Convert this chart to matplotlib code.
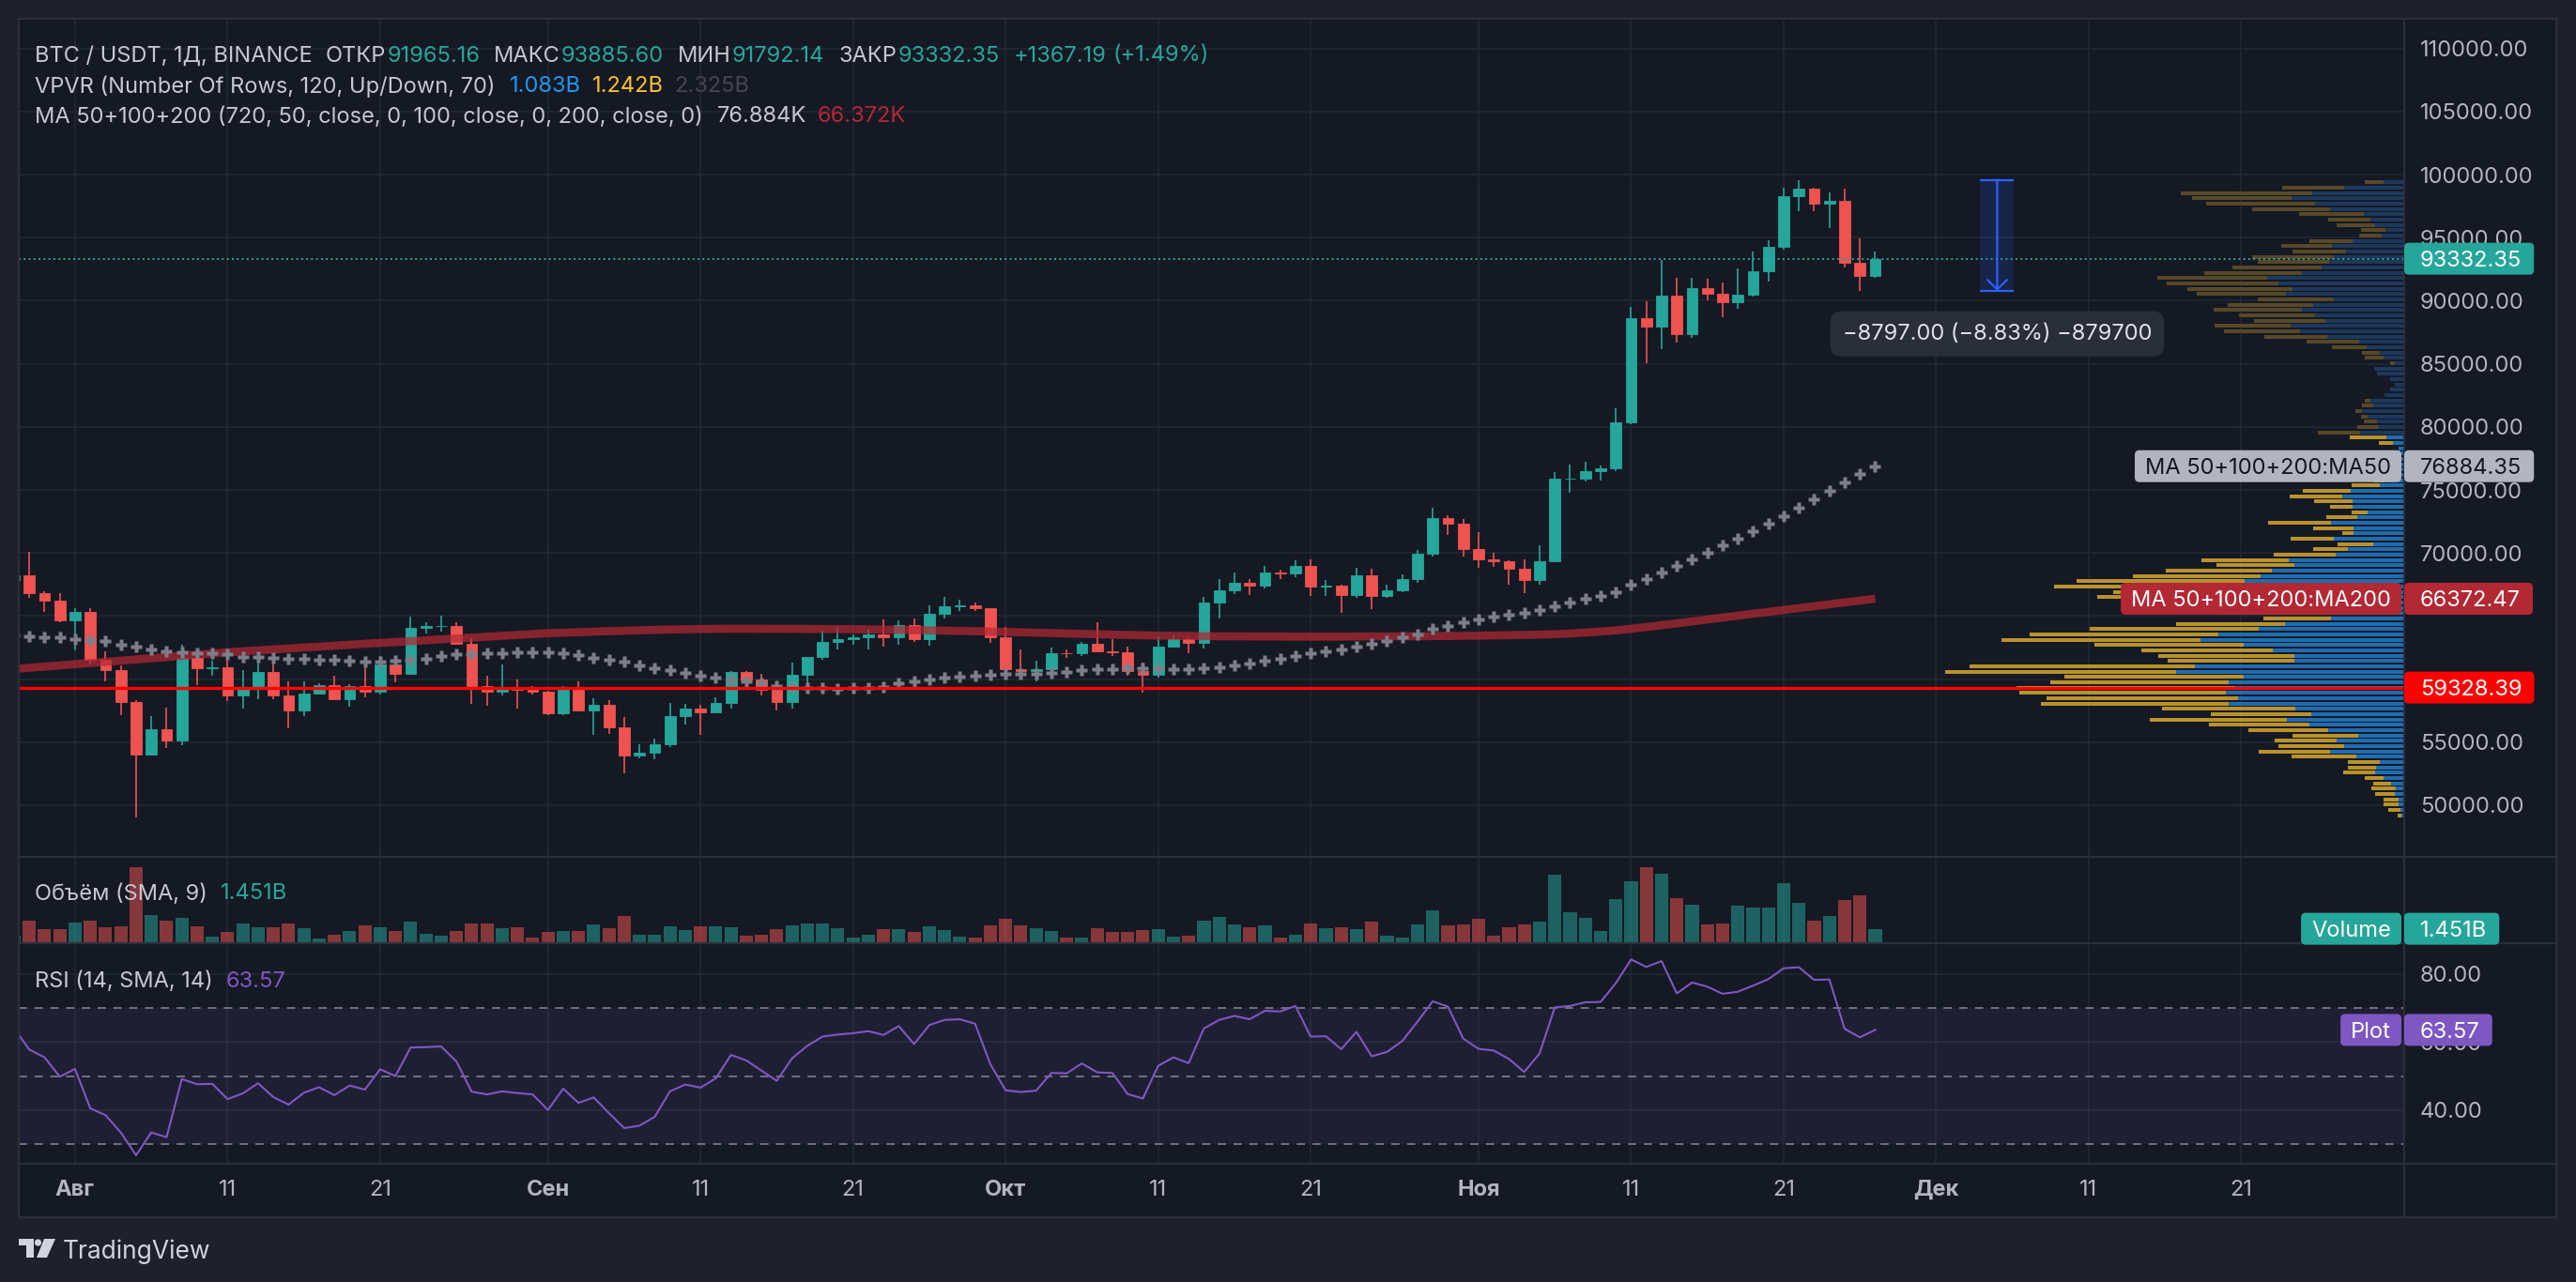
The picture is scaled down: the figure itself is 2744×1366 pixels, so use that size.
#!/usr/bin/env python3
"""BTC/USDT 1D - TradingView-style chart: candles, VPVR, MA 50/200, volume, RSI"""

import matplotlib
matplotlib.use('Agg')
import matplotlib.pyplot as plt
import matplotlib.dates as mdates
from matplotlib.patches import Rectangle, FancyBboxPatch, Circle, Polygon
from matplotlib.ticker import FuncFormatter
import numpy as np
import pandas as pd

plt.rcParams['font.family'] = ['Inter', 'DejaVu Sans']
plt.rcParams['lines.scale_dashes'] = False

# ---------------- data ----------------
dates = pd.date_range('2024-07-28', '2024-11-27', freq='D')

opens = [67880, 68249, 66784, 66188,
         64628, 65354, 61498, 60697, 58161, 54018, 56022, 55134, 61686, 60837,
         60923, 58712, 59346, 60588, 58683, 57541, 58875, 59491, 58427, 59438,
         59013, 61157, 60381, 64094, 64178, 64220, 62834, 59415, 59034, 59359, 59123,
         58973, 57301, 59132, 57487, 57970, 56160, 53962, 54160, 54870, 57042,
         57639, 57341, 58127, 60572, 60005, 59182, 58192, 60309, 61759, 62947,
         63201, 63348, 63578, 63339, 64262, 63152, 65173, 65769, 65858, 65602,
         63327, 60805, 60650, 60752, 62086, 62058, 62819, 62224, 62160, 60636,
         60326, 62540, 63206, 62870, 66046, 67041, 67612, 67399, 68418, 68362,
         69001, 67367, 67378, 66653, 68198, 66628, 67012, 67965, 69963, 72736, 72344,
         70292, 69496, 69374, 68775, 67850, 69373, 75858, 75903, 76509, 76677,
         80370, 88648, 87952, 90375, 87325, 91032, 90587, 89855, 90465, 92310,
         94286, 98317, 98893, 97672, 97900, 93010, 91965.16]
highs = [68318, 70079, 66999, 66849,
         65659, 65596, 62198, 61117, 58305, 57040, 57737, 62746, 61744, 61470,
         61858, 60711, 61578, 61800, 59849, 59817, 59686, 60284, 59618, 61400,
         61820, 61400, 64955, 64513, 65000, 64481, 63212, 60234, 61166, 59944, 59462,
         59054, 59425, 59810, 58519, 58327, 56995, 54850, 55318, 58088, 58044,
         57991, 58589, 60625, 60656, 60381, 59210, 61316, 61786, 63850, 64133,
         63559, 64000, 64745, 64688, 64817, 65839, 66498, 66260, 66076, 65618,
         64130, 62370, 61470, 62484, 62370, 62975, 64478, 63200, 62543, 61321,
         63417, 63480, 63285, 66500, 67950, 68425, 67918, 68969, 68687, 69400,
         69500, 67836, 67472, 68850, 68771, 67454, 68332, 70270, 73620, 72962, 72700,
         71632, 70000, 69391, 69500, 70577, 76400, 76999, 77252, 76900, 81500,
         89530, 89940, 93265, 91790, 91850, 91779, 91449, 92594, 93905, 94831,
         98988, 99588, 98948, 98564, 98871, 94973, 93885.60]
lows = [67066, 66428, 65302, 64530,
        62302, 61130, 59850, 57122, 49000, 53970, 54558, 54730, 59535, 60243,
        58286, 57642, 58392, 58433, 56078, 57098, 58785, 58408, 57787, 58548,
        58784, 59724, 60345, 63620, 63784, 62800, 58034, 57860, 58713, 57701, 58744,
        57118, 57128, 57415, 55606, 55643, 52550, 53745, 53629, 54591, 56386,
        55567, 57324, 57632, 59880, 58696, 57493, 57628, 59174, 61555, 62350,
        62758, 62357, 62538, 62700, 62947, 62670, 64819, 65422, 65432, 62856,
        60164, 59996, 59828, 60459, 61689, 61798, 62128, 61860, 60300, 58946,
        60087, 62487, 62050, 62457, 64800, 66750, 66697, 67177, 67900, 68100,
        66571, 66571, 65260, 66457, 65522, 66439, 66913, 67620, 69730, 71436, 69686,
        68820, 68900, 67478, 66835, 67458, 69299, 74754, 75648, 75714, 76492,
        80216, 85072, 86127, 86668, 87073, 90057, 88722, 89376, 90357, 91500,
        94040, 97122, 97136, 95735, 92600, 90791, 91792.14]
closes = [68249, 66784, 66188, 64628,
          65354, 61498, 60697, 58161, 54018, 56022, 55134, 61686, 60837, 60923,
          58712, 59346, 60588, 58683, 57541, 58875, 59491, 58427, 59438, 59013,
          61157, 60381, 64094, 64178, 64220, 62834, 59415, 59034, 59359, 59123, 58973,
          57301, 59132, 57487, 57970, 56160, 53962, 54160, 54870, 57042, 57639,
          57341, 58127, 60572, 60005, 59182, 58192, 60309, 61759, 62947, 63201,
          63348, 63578, 63339, 64262, 63152, 65173, 65769, 65858, 65602, 63327,
          60805, 60650, 60752, 62086, 62058, 62819, 62224, 62160, 60636, 60326,
          62540, 63206, 62870, 66046, 67041, 67612, 67399, 68418, 68362, 69001,
          67367, 67378, 66653, 68198, 66628, 67012, 67965, 69963, 72736, 72344, 70292,
          69496, 69374, 68775, 67850, 69373, 75858, 75903, 76509, 76677, 80370,
          88647, 87952, 90375, 87325, 91032, 90586, 89855, 90465, 92310, 94286,
          98317, 98892, 97672, 97900, 93010, 91965.16, 93332.35]

# volume, billions USDT
volumes = [0.774, 2.321, 1.451, 1.451,
           2.128, 2.321, 1.644, 1.741, 7.834, 2.902, 2.321, 2.611, 1.741, 0.677,
           1.161, 2.031, 1.644, 1.644, 2.031, 1.548, 0.484, 0.870, 1.257, 1.838,
           1.644, 1.257, 2.225, 0.967, 0.774, 1.257, 2.031, 2.031, 1.548, 1.644, 0.580,
           1.161, 1.257, 1.257, 1.934, 1.548, 2.805, 0.870, 0.870, 1.741, 1.354,
           1.741, 1.741, 1.644, 0.774, 0.870, 1.451, 1.838, 2.031, 2.031, 1.548,
           0.580, 0.870, 1.451, 1.451, 1.161, 1.741, 1.354, 0.677, 0.580, 1.838,
           2.515, 1.838, 1.548, 1.257, 0.580, 0.580, 1.548, 1.161, 1.161, 1.354,
           1.451, 0.677, 0.774, 2.321, 2.708, 1.934, 1.644, 1.838, 0.580, 0.870,
           2.031, 1.548, 1.644, 1.451, 2.225, 0.774, 0.580, 1.934, 3.385, 1.838, 1.934,
           2.515, 0.774, 1.644, 1.934, 2.225, 7.061, 3.192, 2.611, 1.257, 4.546,
           6.384, 7.834, 7.157, 4.643, 3.966, 1.934, 2.031, 3.869, 3.675, 3.675,
           6.190, 4.159, 2.321, 2.805, 4.449, 4.933, 1.451]

ma50 = [63480, 63420, 63350, 63300,
        63180, 63100, 63030, 62750, 62600, 62370, 62180, 62130, 62050, 62020,
        61960, 61760, 61760, 61710, 61630, 61630, 61560, 61560, 61460, 61380,
        61380, 61460, 61530, 61630, 61810, 61960, 62000, 62050, 62050, 62130, 62130,
        62130, 62050, 61870, 61700, 61560, 61380, 61060, 60890, 60720, 60470,
        60270, 60140, 59970, 59820, 59650, 59470, 59400, 59280, 59280, 59230,
        59280, 59320, 59400, 59650, 59840, 59970, 60090, 60190, 60270, 60320,
        60390, 60390, 60390, 60520, 60590, 60720, 60770, 60810, 60840, 60840,
        60840, 60810, 60770, 60840, 60960, 61090, 61260, 61460, 61630, 61810,
        62050, 62200, 62330, 62550, 62800, 63040, 63320, 63570, 63990, 64190, 64490,
        64730, 64930, 65110, 65230, 65480, 65770, 66100, 66390, 66590, 66910,
        67460, 67910, 68450, 68950, 69500, 69990, 70600, 71150, 71750, 72350,
        72950, 73600, 74250, 74950, 75600, 76250, 76884.35]

ma200 = [60800, 60895, 60990, 61085,
         61180, 61275, 61370, 61465, 61560, 61655, 61750, 61845, 61940, 62035,
         62130, 62205, 62280, 62355, 62430, 62505, 62575, 62650, 62725, 62800,
         62870, 62940, 63010, 63080, 63150, 63220, 63290, 63360, 63430, 63500, 63570,
         63640, 63680, 63720, 63760, 63800, 63840, 63870, 63900, 63930, 63950,
         63970, 63990, 64000, 64000, 63995, 63990, 63985, 63980, 63975, 63970,
         63960, 63940, 63920, 63900, 63880, 63860, 63840, 63820, 63800, 63770,
         63740, 63710, 63680, 63650, 63620, 63590, 63560, 63530, 63500, 63470,
         63440, 63430, 63420, 63410, 63400, 63395, 63390, 63385, 63380, 63375,
         63370, 63370, 63375, 63380, 63385, 63390, 63395, 63400, 63410, 63420, 63430,
         63440, 63460, 63480, 63500, 63530, 63560, 63620, 63690, 63770, 63860,
         63990, 64130, 64270, 64420, 64570, 64730, 64880, 65030, 65180, 65330,
         65480, 65630, 65780, 65930, 66080, 66230, 66372.47]

rsi = [64.0, 57.8, 55.5, 49.8,
       52.1, 40.5, 38.5, 33.4, 26.7, 33.4, 32.0, 49.1, 47.6, 47.7,
       43.2, 44.9, 47.9, 43.8, 41.6, 45.1, 46.7, 44.4, 47.2, 46.0,
       52.0, 50.0, 58.4, 58.5, 58.7, 54.3, 45.4, 44.6, 45.5, 45.0, 44.6,
       40.0, 46.3, 42.1, 43.7, 39.1, 34.7, 35.4, 38.0, 45.5, 47.5,
       46.6, 49.3, 56.2, 54.6, 51.6, 48.6, 55.2, 58.9, 61.6, 62.2,
       62.6, 63.2, 62.1, 64.7, 59.4, 65.0, 66.5, 66.7, 65.4, 53.5,
       45.8, 45.3, 45.7, 50.9, 50.8, 53.7, 51.1, 50.9, 44.7, 43.4,
       53.0, 55.5, 53.8, 64.0, 66.5, 67.7, 66.7, 69.2, 69.0, 70.6,
       61.6, 61.7, 57.9, 63.0, 55.8, 57.1, 60.3, 66.0, 72.0, 70.4, 61.0,
       58.0, 57.5, 55.0, 51.2, 56.6, 70.2, 70.6, 71.7, 71.8, 77.3,
       84.3, 82.1, 83.8, 74.3, 77.5, 76.3, 74.2, 74.8, 76.6, 78.5,
       81.7, 82.0, 78.3, 78.4, 63.9, 61.4, 63.57]

# VPVR rows (bottom -> top), up / down volume, arbitrary units
vp_up = [3, 4, 6, 6, 10, 9, 14, 22, 31, 30,
         26, 51, 79, 64, 72, 49, 81, 101, 125, 99,
         116, 187, 177, 190, 180, 187, 171, 243, 223, 117,
         117, 140, 171, 217, 198, 155, 127, 78, 100, 133,
         150, 167, 160, 187, 170, 153, 141, 117, 123, 73,
         60, 33, 75, 54, 54, 78, 50, 39, 55, 55,
         66, 57, 26, 20, 17, 15, 13, 10, 8, 6,
         12, 19, 47, 27, 29, 39, 45, 33, 36, 21,
         15, 10, 15, 29, 32, 10, 22, 26, 40, 48,
         82, 111, 121, 84, 95, 109, 97, 75, 126, 119,
         134, 146, 109, 88, 80, 75, 62, 77, 55, 24,
         20, 31, 36, 43, 79, 95, 120, 98, 64, 22]
vp_down = [4, 13, 16, 16, 21, 26, 19, 20, 34, 30,
           34, 69, 76, 70, 66, 70, 85, 107, 146, 107,
           142, 200, 204, 220, 233, 190, 191, 246, 240, 135,
           145, 140, 159, 212, 201, 180, 116, 72, 100, 133,
           150, 160, 150, 186, 179, 136, 113, 83, 93, 66,
           37, 38, 46, 12, 43, 67, 33, 17, 24, 41,
           56, 51, 30, 13, 10, 10, 7, 5, 3, 0,
           15, 39, 45, 23, 14, 7, 7, 12, 6, 0,
           0, 0, 0, 0, 0, 5, 20, 19, 37, 56,
           67, 81, 81, 76, 81, 94, 91, 81, 95, 112,
           119, 117, 104, 95, 76, 87, 57, 54, 46, 24,
           26, 41, 45, 69, 83, 116, 106, 140, 66, 20]
vp_value_area_rows = 72
vp_totals = ['1.083B', '1.242B', '2.325B']

hline_price = 59328.39
measure_top = 99588.0
measure_bottom = 90791.0
measure_span = ('2024-12-03 21:30', '2024-12-06 02:30')
view_span = ('2024-07-28 07:30', '2024-12-31 16:20')

xtick_dates = ['2024-08-01', '2024-08-11', '2024-08-21', '2024-09-01', '2024-09-11',
               '2024-09-21', '2024-10-01', '2024-10-11', '2024-10-21', '2024-11-01',
               '2024-11-11', '2024-11-21', '2024-12-01', '2024-12-11', '2024-12-21']
xtick_labels = ['Авг', '11', '21', 'Сен', '11', '21', 'Окт', '11', '21',
                'Ноя', '11', '21', 'Дек', '11', '21']
month_labels = ['Авг', 'Сен', 'Окт', 'Ноя', 'Дек']
price_ticks = list(range(50000, 110001, 5000))
hidden_price_ticks = [60000, 65000]
rsi_ticks = [40, 60, 80]

# ---------------- style ----------------
W, H = 2744, 1366
BG = '#151924'
OUTER = '#1e2129'
GRID = '#232733'
BORDER = '#2b2f3a'
AXTXT = '#b2b5be'
LEG = '#c5c8cf'
TEAL = '#26a69a'
RED = '#ef5350'
PURPLE = '#7e57c2'
MA200C = '#b22833'
FS = 17

def rect(x0, y0, x1, y1):
    return [x0 / W, 1 - y1 / H, (x1 - x0) / W, (y1 - y0) / H]

fig = plt.figure(figsize=(W / 100, H / 100), dpi=100, facecolor=OUTER)
fig.add_artist(Rectangle((20 / W, 1 - 1297 / H), 2703 / W, 1277 / H,
                         transform=fig.transFigure, fc=BG, ec='none', zorder=-5))

ax_p = fig.add_axes(rect(20, 20, 2561, 913))
ax_v = fig.add_axes(rect(20, 914, 2561, 1004.5), sharex=ax_p)
ax_r = fig.add_axes(rect(20, 1006, 2561, 1240), sharex=ax_p)

x = mdates.date2num(dates)
o = np.array(opens); h = np.array(highs); l = np.array(lows); c = np.array(closes)
up = c >= o
cols = np.where(up, TEAL, RED)

for ax in (ax_p, ax_v, ax_r):
    ax.set_facecolor(BG)
    for s in ax.spines.values():
        s.set_visible(False)
    ax.set_axisbelow(True)
    ax.grid(True, color=GRID, lw=1.2)
    ax.tick_params(length=0)

# ---- price pane ----
ax_p.vlines(x, l, h, colors=cols, lw=1.2, zorder=2)
ax_p.bar(x, np.abs(c - o), bottom=np.minimum(o, c), width=0.72, color=cols,
         edgecolor=cols, linewidth=0.6, zorder=2.1)
ax_p.plot(x, ma200, color=MA200C, lw=6.2, alpha=0.72, solid_capstyle='butt', zorder=3)
ax_p.plot(x, ma50, ls='none', marker='P', ms=8.5, color='#7c7f89', mec='none', zorder=3.2)
ax_p.axhline(hline_price, color='#ff0000', lw=2.4, zorder=4)
ax_p.axhline(closes[-1], color=TEAL, lw=1.4, ls=(0, (1.4, 2.4)), zorder=4)

# measure tool
mx0, mx1 = mdates.date2num(pd.to_datetime(list(measure_span)))
xm = (mx0 + mx1) / 2
ax_p.add_patch(Rectangle((mx0, measure_bottom), mx1 - mx0, measure_top - measure_bottom,
                         fc='#2962ff', alpha=0.16, ec='none', zorder=5))
ax_p.hlines([measure_top, measure_bottom], mx0, mx1, color='#2962ff', lw=1.6, zorder=5)
ax_p.annotate('', xy=(xm, measure_bottom), xytext=(xm, measure_top),
              arrowprops=dict(arrowstyle='->,head_length=0.72,head_width=0.75',
                              color='#2962ff', lw=1.6, shrinkA=0, shrinkB=0,
                              mutation_scale=10), zorder=6)
diff = measure_bottom - measure_top
mlabel = f'{diff:.2f} ({diff / measure_top * 100:.2f}%) {diff * 100:.0f}'.replace('-', '\u2212')
ax_p.annotate(mlabel, xy=(xm, measure_bottom), xytext=(0, -33), textcoords='offset points',
              ha='center', va='center', fontsize=FS, color='#e1e3ea', zorder=7,
              bbox=dict(boxstyle='round,pad=0.55,rounding_size=0.5', fc='#2a2e39', ec='none'),
              annotation_clip=False)

# VPVR
ax_vp = ax_p.inset_axes([0, 0, 1, 1], sharey=ax_p, zorder=1.5)
ax_vp.patch.set_visible(False)
ax_vp.axis('off')
n_rows = len(vp_up)
vp_low, vp_high = min(lows), max(highs)
row_h = (vp_high - vp_low) / n_rows
centers = vp_low + row_h * (np.arange(n_rows) + 0.5)
in_va = np.arange(n_rows) < vp_value_area_rows
up_c = np.where(in_va, '#1f6cb0', '#1c385c')
dn_c = np.where(in_va, '#b8922c', '#574828')
ax_vp.barh(centers, vp_up, height=row_h * 0.73, left=0, color=up_c)
ax_vp.barh(centers, vp_down, height=row_h * 0.73, left=vp_up, color=dn_c)

ax_p.set_yticks(price_ticks)
ax_p.yaxis.tick_right()
ax_p.yaxis.set_major_formatter(FuncFormatter(
    lambda v, p: '' if int(round(v)) in hidden_price_ticks else f'{v:.2f}'))
ax_p.tick_params(axis='y', pad=12.2, labelsize=FS, labelcolor=AXTXT)
ax_p.tick_params(axis='x', labelbottom=False)

# ---- volume pane ----
ax_v.bar(x, volumes, width=0.87, color=cols, alpha=0.52, zorder=2)
ax_v.set_yticks([])
ax_v.grid(False, axis='y')
ax_v.tick_params(axis='x', labelbottom=False)
ax_v.set_ylim(0, max(volumes) * 1.125)

# ---- RSI pane ----
ax_r.axhspan(30, 70, color=PURPLE, alpha=0.1, lw=0, zorder=0.6)
for lv in (70, 50, 30):
    ax_r.axhline(lv, color='#868993', lw=1.1, ls=(0, (6.3, 5.8)), zorder=1)
ax_r.plot(x, rsi, color=PURPLE, lw=1.5, zorder=3)
ax_r.set_ylim(24.2, 88.8)
ax_r.set_yticks(rsi_ticks)
ax_r.yaxis.tick_right()
ax_r.yaxis.set_major_formatter(FuncFormatter(lambda v, p: f'{v:.2f}'))
ax_r.tick_params(axis='y', pad=12.2, labelsize=FS, labelcolor=AXTXT)

ax_r.set_xticks(mdates.date2num(pd.to_datetime(xtick_dates)))
ax_r.set_xticklabels(xtick_labels)
ax_r.tick_params(axis='x', pad=12, labelsize=FS, labelcolor=AXTXT)
for t in ax_r.get_xticklabels():
    if t.get_text() in month_labels:
        t.set_fontweight('bold')

vx0, vx1 = mdates.date2num(pd.to_datetime(list(view_span)))
ax_p.set_xlim(vx0, vx1)
ax_p.set_ylim(45907, 112356)
ax_vp.set_xlim(ax_p.get_window_extent().width, 0)

# ---------------- overlay: legends, tags, frame ----------------
ov = fig.add_axes([0, 0, 1, 1], zorder=10)
ov.set_xlim(0, W)
ov.set_ylim(H, 0)
ov.axis('off')
ov.patch.set_alpha(0)
r = fig.canvas.get_renderer()

def seg_text(x0, y, parts, fs=FS):
    for s, col, gap in parts:
        t = ov.text(x0, y, s, color=col, fontsize=fs, ha='left', va='center_baseline', zorder=20)
        x0 = t.get_window_extent(renderer=r).x1 + gap

def to_y(ax, v):
    return H - ax.transData.transform((ax.get_xlim()[0], v))[1]

def tag(y, txt, bg, fg, label=None):
    t = ov.text(2578, y, txt, color=fg, fontsize=FS, ha='left', va='center_baseline', zorder=31)
    bb = t.get_window_extent(renderer=r)
    ov.add_patch(FancyBboxPatch((2561, y - 17), bb.x1 + 13 - 2561, 34,
                                boxstyle='round,pad=0,rounding_size=5', fc=bg, ec='none', zorder=30))
    if label:
        t2 = ov.text(2547, y, label, color=fg, fontsize=FS, ha='right', va='center_baseline', zorder=31)
        b2 = t2.get_window_extent(renderer=r)
        ov.add_patch(FancyBboxPatch((b2.x0 - 11, y - 17), 2558 - b2.x0 + 11, 34,
                                    boxstyle='round,pad=0,rounding_size=5', fc=bg, ec='none', zorder=30))

chg = closes[-1] - opens[-1]
seg_text(37, 57, [('BTC / USDT, 1Д, BINANCE', LEG, 14), ('ОТКР', LEG, 1),
                  (f'{opens[-1]:.2f}', TEAL, 15), ('МАКС', LEG, 1),
                  (f'{highs[-1]:.2f}', TEAL, 15), ('МИН', LEG, 1),
                  (f'{lows[-1]:.2f}', TEAL, 15), ('ЗАКР', LEG, 1),
                  (f'{closes[-1]:.2f}', TEAL, 15),
                  (f'{chg:+.2f}', TEAL, 7),
                  (f'({chg / opens[-1] * 100:+.2f}%)', TEAL, 0)])
seg_text(37, 90, [('VPVR (Number Of Rows, 120, Up/Down, 70)', LEG, 15),
                  (vp_totals[0], '#2196f3', 12), (vp_totals[1], '#fbc02d', 12),
                  (vp_totals[2], '#434651', 0)])
seg_text(37, 122, [('MA 50+100+200 (720, 50, close, 0, 100, close, 0, 200, close, 0)', LEG, 15),
                   (f'{ma50[-1] / 1000:.3f}K', LEG, 12), (f'{ma200[-1] / 1000:.3f}K', MA200C, 0)])
seg_text(37, 950, [('Объём (SMA, 9)', LEG, 14), (f'{volumes[-1]:.3f}B', TEAL, 0)])
seg_text(37, 1043, [('RSI (14, SMA, 14)', LEG, 14), (f'{rsi[-1]:.2f}', PURPLE, 0)])

tag(to_y(ax_p, closes[-1]), f'{closes[-1]:.2f}', TEAL, 'white')
tag(to_y(ax_p, ma50[-1]), f'{ma50[-1]:.2f}', '#b2b5be', '#131722', 'MA 50+100+200:MA50')
tag(to_y(ax_p, ma200[-1]), f'{ma200[-1]:.2f}', MA200C, 'white', 'MA 50+100+200:MA200')
tag(to_y(ax_p, hline_price), f'{hline_price:.2f}', '#ff0000', 'white')
tag(to_y(ax_v, volumes[-1]), f'{volumes[-1]:.3f}B', TEAL, 'white', 'Volume')
tag(to_y(ax_r, rsi[-1]), f'{rsi[-1]:.2f}', PURPLE, 'white', 'Plot')

# frame and pane separators
ov.add_patch(Rectangle((20, 20), 2703, 1277, fc='none', ec=BORDER, lw=1.5, zorder=25))
ov.vlines(2561, 20, 1297, color=BORDER, lw=1.5, zorder=25)
ov.hlines([913, 1005, 1240], 20, 2723, color=BORDER, lw=1.6, zorder=25)

# TradingView logo
LOGO = '#d1d4dc'
ov.add_patch(Polygon([(20, 1320), (36, 1320), (36, 1340), (28, 1340), (28, 1327), (20, 1327)],
                     closed=True, fc=LOGO, ec='none'))
ov.add_patch(Circle((40.5, 1324), 3.6, fc=LOGO, ec='none'))
ov.add_patch(Polygon([(47, 1320), (59, 1320), (50, 1340), (39, 1340)], closed=True, fc=LOGO, ec='none'))
ov.text(67, 1331, 'TradingView', fontsize=19, color=LOGO, ha='left', va='center_baseline')

fig.savefig('out.png', dpi=100, facecolor=OUTER)
print('[SAVED] out.png')
